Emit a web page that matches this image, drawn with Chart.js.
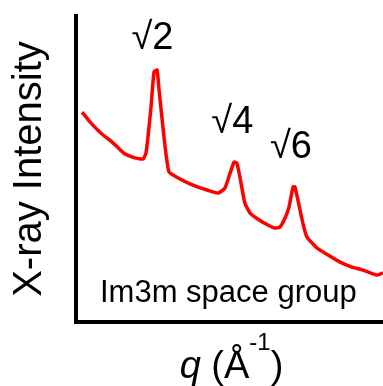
<!DOCTYPE html>
<html>
<head>
<meta charset="utf-8">
<script src="https://cdn.jsdelivr.net/npm/chart.js@4"></script>
<style>
  html, body { margin: 0; padding: 0; background: #fff; }
  canvas { display: block; }
</style>
</head>
<body>
<canvas id="chart" width="383" height="386"></canvas>
<script>
// SAXS trace: q in 1/Å, intensity in arbitrary units
const q = [
  0.0320, 0.0349, 0.0381, 0.0421, 0.0456, 0.0495, 0.0518, 0.0528, 0.0544, 0.0554,
  0.0564, 0.0570, 0.0587, 0.0603, 0.0639, 0.0681, 0.0727, 0.0763, 0.0785, 0.0802,
  0.0815, 0.0824, 0.0834, 0.0850, 0.0867, 0.0893, 0.0925, 0.0948, 0.0964, 0.0981,
  0.0994, 0.1007, 0.1013, 0.1023, 0.1039, 0.1052, 0.1085, 0.1121, 0.1160, 0.1199,
  0.1235, 0.1280, 0.1300
];
const intensity = [
  68.4, 64.8, 61.6, 58.3, 55.0, 53.4, 53.1, 55.0, 69.7, 81.4,
  82.1, 76.2, 59.9, 48.9, 46.6, 44.6, 43.0, 42.0, 43.6, 48.5,
  52.1, 51.8, 47.2, 38.8, 35.5, 33.5, 31.6, 30.6, 30.9, 33.9,
  37.5, 44.0, 44.0, 39.7, 32.2, 27.7, 24.1, 21.8, 19.5, 17.9,
  16.9, 15.3, 16.0
];

// Bragg peaks of the Im3m lattice (ratios √2 : √4 : √6)
const peakLabels = ['√2', '√4', '√6'];
const peakQ = [0.0559, 0.0819, 0.1010];

const sampleName = 'Im3m space group';
const yTitle = 'X-ray Intensity';

const FONT = '"Liberation Sans", Arial, sans-serif';

// labels sit a little above each peak top
const labelLift = [21, 29, 29];

const textPlugin = {
  id: 'texts',
  afterDraw(chart) {
    const ctx = chart.ctx;
    const xs = chart.scales.x;
    const ys = chart.scales.y;
    const area = chart.chartArea;
    ctx.save();
    ctx.fillStyle = '#000';

    // peak labels
    ctx.font = '38px ' + FONT;
    ctx.textAlign = 'center';
    ctx.textBaseline = 'alphabetic';
    peakLabels.forEach((label, i) => {
      let top = 0;
      q.forEach((v, j) => {
        if (Math.abs(v - peakQ[i]) < 0.002) top = Math.max(top, intensity[j]);
      });
      const px = xs.getPixelForValue(peakQ[i]);
      const py = ys.getPixelForValue(top);
      ctx.fillText(label, px - 3, py - labelLift[i]);
    });

    // sample note inside the frame
    ctx.font = '31px ' + FONT;
    ctx.textAlign = 'left';
    ctx.fillText(sampleName, area.left + 24, area.bottom - 20);

    // x axis title: q (Å^-1)
    const parts = [
      { text: 'q', font: 'italic 38px ' + FONT, dy: 0 },
      { text: ' (Å', font: '38px ' + FONT, dy: 0 },
      { text: '-1', font: '24px ' + FONT, dy: -28 },
      { text: ')', font: '38px ' + FONT, dy: 0 }
    ];
    let total = 0;
    parts.forEach(p => {
      ctx.font = p.font;
      p.w = ctx.measureText(p.text).width;
      total += p.w;
    });
    let x = (area.left + area.right) / 2 + 2 - total / 2;
    const base = 378;
    parts.forEach(p => {
      ctx.font = p.font;
      ctx.fillText(p.text, x, base + p.dy);
      x += p.w;
    });
    ctx.restore();
  }
};

new Chart(document.getElementById('chart'), {
  type: 'line',
  data: {
    datasets: [{
      data: q.map((v, i) => ({ x: v, y: intensity[i] })),
      borderColor: '#ff0000',
      borderWidth: 3.5,
      pointRadius: 0,
      tension: 0.15,
      fill: false
    }]
  },
  options: {
    responsive: false,
    animation: false,
    devicePixelRatio: 1,
    layout: { padding: { top: 16, right: 0, bottom: 0, left: 0 } },
    plugins: {
      legend: { display: false },
      tooltip: { enabled: false }
    },
    scales: {
      x: {
        type: 'linear',
        min: 0.03,
        max: 0.13,
        ticks: { display: false },
        grid: { display: false },
        border: { display: true, color: '#000', width: 4 },
        afterFit(scale) { scale.height = 64; }
      },
      y: {
        min: 0,
        max: 99.7,
        ticks: { display: false },
        grid: { display: false },
        border: { display: true, color: '#000', width: 4 },
        title: {
          display: true,
          text: yTitle,
          color: '#000',
          font: { family: FONT, size: 40 },
          padding: { top: 6, bottom: 0 }
        },
        afterFit(scale) { scale.width = 76; }
      }
    }
  },
  plugins: [textPlugin]
});
</script>
</body>
</html>
